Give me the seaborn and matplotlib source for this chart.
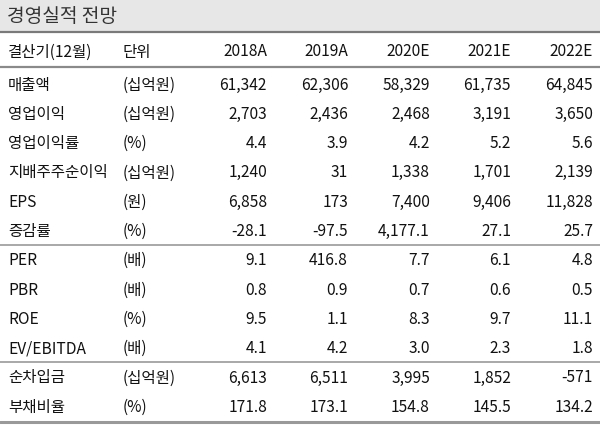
import matplotlib
matplotlib.use('Agg')
import matplotlib.pyplot as plt
import seaborn as sns

# 표 데이터
title = "경영실적 전망"
header_label = "결산기(12월)"
header_unit = "단위"
years = ["2018A", "2019A", "2020E", "2021E", "2022E"]

items = ["매출액", "영업이익", "영업이익률", "지배주주순이익", "EPS", "증감률",
         "PER", "PBR", "ROE", "EV/EBITDA", "순차입금", "부채비율"]
units = ["(십억원)", "(십억원)", "(%)", "(십억원)", "(원)", "(%)",
         "(배)", "(배)", "(%)", "(배)", "(십억원)", "(%)"]
values = [
    ["61,342", "62,306", "58,329", "61,735", "64,845"],
    ["2,703", "2,436", "2,468", "3,191", "3,650"],
    ["4.4", "3.9", "4.2", "5.2", "5.6"],
    ["1,240", "31", "1,338", "1,701", "2,139"],
    ["6,858", "173", "7,400", "9,406", "11,828"],
    ["-28.1", "-97.5", "4,177.1", "27.1", "25.7"],
    ["9.1", "416.8", "7.7", "6.1", "4.8"],
    ["0.8", "0.9", "0.7", "0.6", "0.5"],
    ["9.5", "1.1", "8.3", "9.7", "11.1"],
    ["4.1", "4.2", "3.0", "2.3", "1.8"],
    ["6,613", "6,511", "3,995", "1,852", "-571"],
    ["171.8", "173.1", "154.8", "145.5", "134.2"],
]
# 구분선이 들어가는 행 (해당 행 다음)
group_ends = [5, 9]

sns.set_theme(style="white")
plt.rcParams['font.family'] = ['Noto Sans CJK KR', 'DejaVu Sans']

fig = plt.figure(figsize=(6.0, 4.27), dpi=100)
ax = fig.add_axes([0, 0, 1, 1])
ax.set_xlim(0, 600)
ax.set_ylim(427, 0)
ax.axis('off')

txt = '#111111'
fs = 11.2

# 제목 영역
ax.axhspan(0, 32, color='#e7e7e7', zorder=0)
ax.text(7, 16, title, fontsize=13.8, color='#333333', va='center', ha='left')

# 헤더
col_x = [267, 348, 430, 511, 593]
ax.text(8, 52, header_label, fontsize=fs, color=txt, va='center')
ax.text(123, 52, header_unit, fontsize=fs, color=txt, va='center')
for x, yr in zip(col_x, years):
    ax.text(x, 52, yr, fontsize=fs, color=txt, va='center', ha='right')

# 본문
y0, step = 85, 29.3
for i, (name, unit, row) in enumerate(zip(items, units, values)):
    y = y0 + i * step
    ax.text(8, y, name, fontsize=fs, color=txt, va='center')
    ax.text(123, y, unit, fontsize=fs, color=txt, va='center')
    for x, v in zip(col_x, row):
        ax.text(x, y, v, fontsize=fs, color=txt, va='center', ha='right')

# 선
ax.axhline(32.5, color='#7a7a7a', lw=1.6)
ax.axhline(68, color='#8a8a8a', lw=1.6)
for g in group_ends:
    ax.axhline(y0 + (g + 0.5) * step, color='#9a9a9a', lw=1.2)
ax.axhline(423, color='#999999', lw=2.2)

plt.savefig('out.png', dpi=100)
plt.close()
